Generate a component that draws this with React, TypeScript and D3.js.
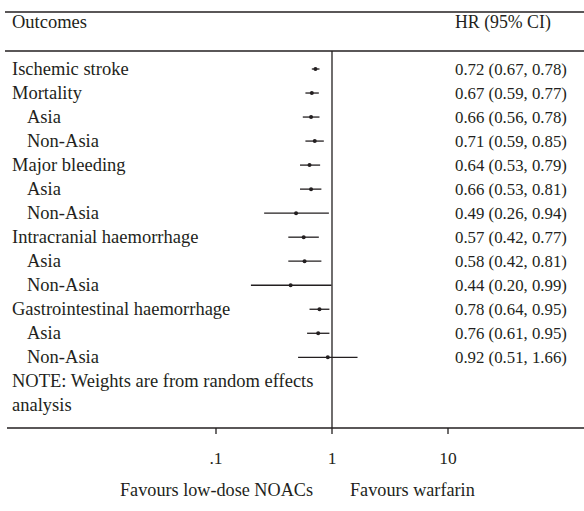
import React from "react";
import * as d3 from "d3";

const labels = [
  "Ischemic stroke", "Mortality", "Asia", "Non-Asia", "Major bleeding", "Asia", "Non-Asia",
  "Intracranial haemorrhage", "Asia", "Non-Asia", "Gastrointestinal haemorrhage", "Asia", "Non-Asia",
];
const indented = [false, false, true, true, false, true, true, false, true, true, false, true, true];
const hr = [0.72, 0.67, 0.66, 0.71, 0.64, 0.66, 0.49, 0.57, 0.58, 0.44, 0.78, 0.76, 0.92];
const lo = [0.67, 0.59, 0.56, 0.59, 0.53, 0.53, 0.26, 0.42, 0.42, 0.2, 0.64, 0.61, 0.51];
const hi = [0.78, 0.77, 0.78, 0.85, 0.79, 0.81, 0.94, 0.77, 0.81, 0.99, 0.95, 0.95, 1.66];
const tickValues = [0.1, 1, 10];
const tickLabels = [".1", "1", "10"];

const W = 584;
const H = 511;
const FONT = "'Liberation Serif', 'Times New Roman', serif";
const INK = "#231f20";

export default function App() {
  const x = d3.scaleLog().domain([0.1, 10]).range([216, 448]);
  const y = d3.scaleLinear().domain([0, 12]).range([69, 357.3]);
  const fmt = d3.format(".2f");
  const topY = 12;
  const headY = 51;
  const axisY = 428;
  const LBL = 18.5;
  const NUM = 16.8;

  return (
    <svg width={W} height={H} style={{ position: "absolute", left: 0, top: 0, background: "#fff" }}>
      <rect x={0} y={0} width={W} height={H} fill="#fff" />
      <g fontFamily={FONT} fill={INK}>
        <line x1={5} x2={W} y1={topY} y2={topY} stroke={INK} strokeWidth={1.3} />
        <line x1={5} x2={W} y1={headY} y2={headY} stroke={INK} strokeWidth={1.3} />
        <text x={12} y={28} fontSize={LBL}>Outcomes</text>
        <text x={455} y={28} fontSize={17.8}>HR (95% CI)</text>

        <line x1={x(1)} x2={x(1)} y1={headY} y2={axisY} stroke={INK} strokeWidth={1.3} />

        {labels.map((l, i) => (
          <g key={i}>
            <text x={indented[i] ? 27 : 12} y={y(i) + 5.8} fontSize={LBL}>{l}</text>
            <text x={455} y={y(i) + 5.5} fontSize={NUM}>
              {`${fmt(hr[i])} (${fmt(lo[i])}, ${fmt(hi[i])})`}
            </text>
            <line x1={x(lo[i])} x2={x(hi[i])} y1={y(i)} y2={y(i)} stroke={INK} strokeWidth={1.3} />
            <circle cx={x(hr[i])} cy={y(i)} r={2} fill={INK} />
          </g>
        ))}

        <text x={12} y={y(13) + 5.8} fontSize={LBL}>NOTE: Weights are from random effects</text>
        <text x={12} y={y(14) + 5.8} fontSize={LBL}>analysis</text>

        <line x1={7} x2={W} y1={axisY} y2={axisY} stroke={INK} strokeWidth={1.3} />
        {tickValues.map((t, i) => (
          <g key={t}>
            <line x1={x(t)} x2={x(t)} y1={axisY} y2={axisY + 6} stroke={INK} strokeWidth={1.3} />
            <text x={x(t)} y={axisY + 36} textAnchor="middle" fontSize={17.5}>{tickLabels[i]}</text>
          </g>
        ))}
        <text x={x(1) - 19} y={496} textAnchor="end" fontSize={18.2}>Favours low-dose NOACs</text>
        <text x={x(1) + 18} y={496} textAnchor="start" fontSize={18.2}>Favours warfarin</text>
      </g>
    </svg>
  );
}
